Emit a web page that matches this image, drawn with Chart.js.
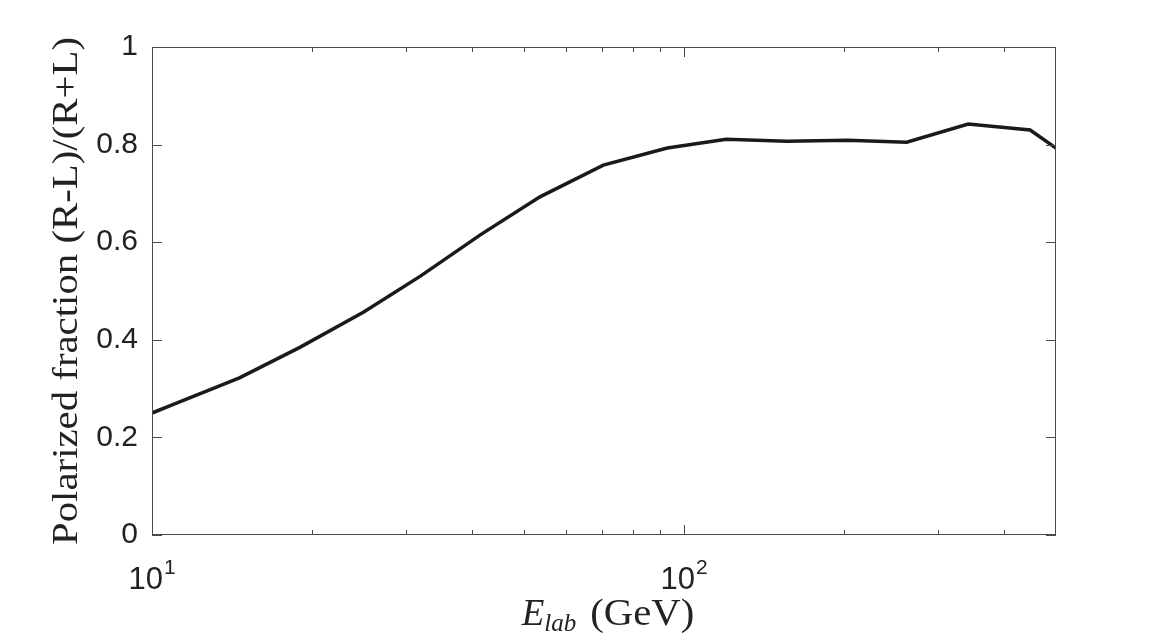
<!DOCTYPE html>
<html lang="en">
<head>
    <meta charset="UTF-8">
    <title>Polarized fraction vs E_lab</title>
    <style>
        html, body { margin: 0; padding: 0; background: #fff; }
        #wrap { width: 1167px; height: 642px; }
    </style>
</head>
<body>
    <div id="wrap"><canvas id="chart" width="1167" height="642"></canvas></div>
    <script src="https://cdn.jsdelivr.net/npm/chart.js"></script>
    <script>
        // energies in GeV (log axis) and polarized fraction
        const energies = [10, 11, 14.6, 19, 25, 32, 41.4, 53.6, 70.5, 93, 120, 156, 203, 262, 342, 447, 500];
        const polarFraction = [0.25, 0.268, 0.322, 0.385, 0.457, 0.531, 0.615, 0.693, 0.758, 0.793, 0.811, 0.807, 0.809, 0.805, 0.842, 0.830, 0.793];

        const xMajorTicks = [10, 100];
        const xTickExponents = ['1', '2'];
        const xMinorTicks = [20, 30, 40, 50, 60, 70, 80, 90, 200, 300, 400];
        const yTicks = [0, 0.2, 0.4, 0.6, 0.8, 1];
        const yTitle = 'Polarized fraction (R-L)/(R+L)';

        const axisColor = '#4a4a4a';
        const textColor = '#222';
        const serif = '"Liberation Serif", "DejaVu Serif", serif';
        const sans = '"Liberation Sans", Arial, sans-serif';

        // box, inward ticks on all four sides (matlab look), and the labels that need sub/superscripts
        const boxTicks = {
            id: 'boxTicks',
            afterDraw(chart) {
                const { ctx, chartArea: a, scales: { x, y } } = chart;
                ctx.save();
                ctx.strokeStyle = axisColor;
                ctx.lineWidth = 1;
                ctx.strokeRect(a.left + 0.5, a.top + 0.5, a.right - a.left - 1, a.bottom - a.top - 1);
                ctx.beginPath();
                const major = 10, minor = 5;
                xMajorTicks.concat(xMinorTicks).forEach(v => {
                    const len = xMajorTicks.includes(v) ? major : minor;
                    const px = Math.round(x.getPixelForValue(v)) + 0.5;
                    ctx.moveTo(px, a.bottom); ctx.lineTo(px, a.bottom - len);
                    ctx.moveTo(px, a.top); ctx.lineTo(px, a.top + len);
                });
                yTicks.forEach(v => {
                    const py = Math.round(y.getPixelForValue(v)) + 0.5;
                    ctx.moveTo(a.left, py); ctx.lineTo(a.left + major, py);
                    ctx.moveTo(a.right, py); ctx.lineTo(a.right - major, py);
                });
                ctx.stroke();

                ctx.fillStyle = textColor;
                ctx.textBaseline = 'alphabetic';
                ctx.textAlign = 'left';

                // x tick labels 10^n
                xMajorTicks.forEach((v, i) => {
                    const px = x.getPixelForValue(v);
                    ctx.font = '31px ' + sans;
                    const wb = ctx.measureText('10').width;
                    ctx.font = '21px ' + sans;
                    const we = ctx.measureText(xTickExponents[i]).width;
                    const sx = px - (wb + we + 1) / 2;
                    ctx.font = '31px ' + sans;
                    ctx.fillText('10', sx, 589);
                    ctx.font = '21px ' + sans;
                    ctx.fillText(xTickExponents[i], sx + wb + 1, 574);
                });

                // x title: E_lab (GeV)
                const cx = (a.left + a.right) / 2 + 4;
                const base = 625;
                ctx.font = 'italic 37px ' + serif;
                const wE = ctx.measureText('E').width;
                ctx.font = 'italic 25px ' + serif;
                const wSub = ctx.measureText('lab').width;
                ctx.font = '37px ' + serif;
                const wRest = ctx.measureText('(GeV)').width;
                const gap = 14;
                let sx = cx - (wE + wSub + gap + wRest * 1.1) / 2;
                ctx.font = 'italic 37px ' + serif; ctx.fillText('E', sx, base); sx += wE;
                ctx.font = 'italic 25px ' + serif; ctx.fillText('lab', sx, base + 6); sx += wSub + gap;
                ctx.font = '37px ' + serif;
                ctx.save();
                ctx.translate(sx, base);
                ctx.scale(1.1, 1);
                ctx.fillText('(GeV)', 0, 0);
                ctx.restore();

                // y title, rotated, stretched a little to the reference length
                ctx.font = '35px ' + serif;
                const wy = ctx.measureText(yTitle).width;
                const targetLen = 508;
                ctx.save();
                ctx.translate(77, 291);
                ctx.rotate(-Math.PI / 2);
                ctx.scale(targetLen / wy, 1);
                ctx.textAlign = 'center';
                ctx.fillText(yTitle, 0, 0);
                ctx.restore();

                ctx.restore();
            }
        };

        new Chart(document.getElementById('chart'), {
            type: 'line',
            data: {
                datasets: [{
                    data: energies.map((e, i) => ({ x: e, y: polarFraction[i] })),
                    borderColor: '#1a1a1a',
                    borderWidth: 3.5,
                    pointRadius: 0,
                    tension: 0,
                    fill: false
                }]
            },
            options: {
                responsive: false,
                animation: false,
                layout: { padding: { left: 0, right: 111, top: 47, bottom: 0 } },
                plugins: { legend: { display: false }, tooltip: { enabled: false } },
                scales: {
                    x: {
                        type: 'logarithmic',
                        min: 10,
                        max: 500,
                        grid: { display: false, drawTicks: false },
                        border: { display: false },
                        afterBuildTicks: s => { s.ticks = xMajorTicks.map(v => ({ value: v })); },
                        afterFit: s => { s.height = 107; },
                        ticks: { display: false }
                    },
                    y: {
                        min: 0,
                        max: 1,
                        grid: { display: false, drawTicks: false },
                        border: { display: false },
                        afterBuildTicks: s => { s.ticks = yTicks.map(v => ({ value: v })); },
                        afterFit: s => { s.width = 152; },
                        ticks: {
                            padding: 14,
                            color: textColor,
                            font: { family: sans, size: 30 },
                            callback: v => (v === 0 || v === 1) ? String(v) : v.toFixed(1)
                        }
                    }
                }
            },
            plugins: [boxTicks]
        });
    </script>
</body>
</html>
